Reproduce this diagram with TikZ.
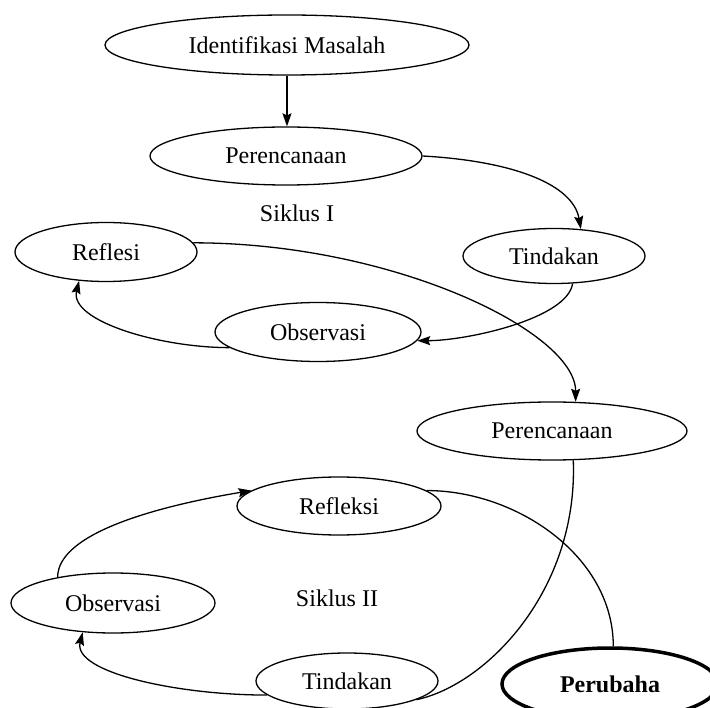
\documentclass[tikz,border=0pt]{standalone}
\usepackage{fontspec}
\setmainfont{Liberation Serif}
\usetikzlibrary{shapes.geometric,arrows.meta}
\begin{document}
\begin{tikzpicture}[x=1pt,y=-1pt,
  el/.style={ellipse,draw,line width=1.3pt,inner sep=0pt,font=\fontsize{24}{28}\selectfont},
  lbl/.style={font=\fontsize{24}{28}\selectfont},
  conn/.style={line width=1.3pt},
  arr/.style={conn,-{Stealth[length=13pt,width=9pt,inset=2pt]}}]
\useasboundingbox (0,0) rectangle (710,708);
\clip (0,0) rectangle (710,708);
\fill[white] (0,0) rectangle (710,708);
% Siklus I
\node[el,minimum width=364pt,minimum height=60pt] (idm) at (287,45) {Identifikasi Masalah};
\node[el,minimum width=272pt,minimum height=58pt] (per1) at (286,156) {Perencanaan};
\node[lbl] (sik1) at (297,213) {Siklus I};
\node[el,minimum width=182pt,minimum height=59pt] (ref1) at (106,252) {Reflesi};
\node[el,minimum width=182pt,minimum height=55pt] (tin1) at (554,256) {Tindakan};
\node[el,minimum width=206pt,minimum height=59pt] (obs1) at (318,332) {Observasi};
% Siklus II
\node[el,minimum width=270pt,minimum height=58pt] (per2) at (552,431) {Perencanaan};
\node[el,minimum width=204pt,minimum height=58pt] (ref2) at (339,506) {Refleksi};
\node[lbl] (sik2) at (337,598) {Siklus II};
\node[el,minimum width=204pt,minimum height=60pt] (obs2) at (113,603) {Observasi};
\node[el,minimum width=182pt,minimum height=56pt] (tin2) at (347,681) {Tindakan};
\node[ellipse,draw,line width=3.5pt,inner sep=0pt,minimum width=216pt,minimum height=72pt,
  font=\bfseries\fontsize{24}{28}\selectfont] (perub) at (610,684) {Perubaha};
% connectors
\draw[arr] (idm.south) -- (idm.south |- per1.north);
\draw[arr] (per1.east) .. controls +(90,5) and +(-8,-45) .. (tin1.45);
\draw[arr] (tin1.-56) .. controls +(-5,35) and +(50,0) .. (obs1.-5);
\draw[arr] (obs1.190) .. controls +(-70,0) and +(-10,40) .. (ref1.-133);
\draw[arr] (ref1.6) .. controls +(200,0) and +(0,-70) .. (per2.51);
\draw[conn] (per2.-54) .. controls +(5,130) and +(70,-15) .. (tin2.-15);
\draw[arr] (tin2.190) .. controls +(-90,0) and +(-10,40) .. (obs2.-136);
\draw[arr] (obs2.155) .. controls +(0,-45) and +(-90,15) .. (ref2.170);
\draw[conn] (ref2.10) .. controls +(90,0) and +(0,-90) .. (perub.85);
\end{tikzpicture}
\end{document}
